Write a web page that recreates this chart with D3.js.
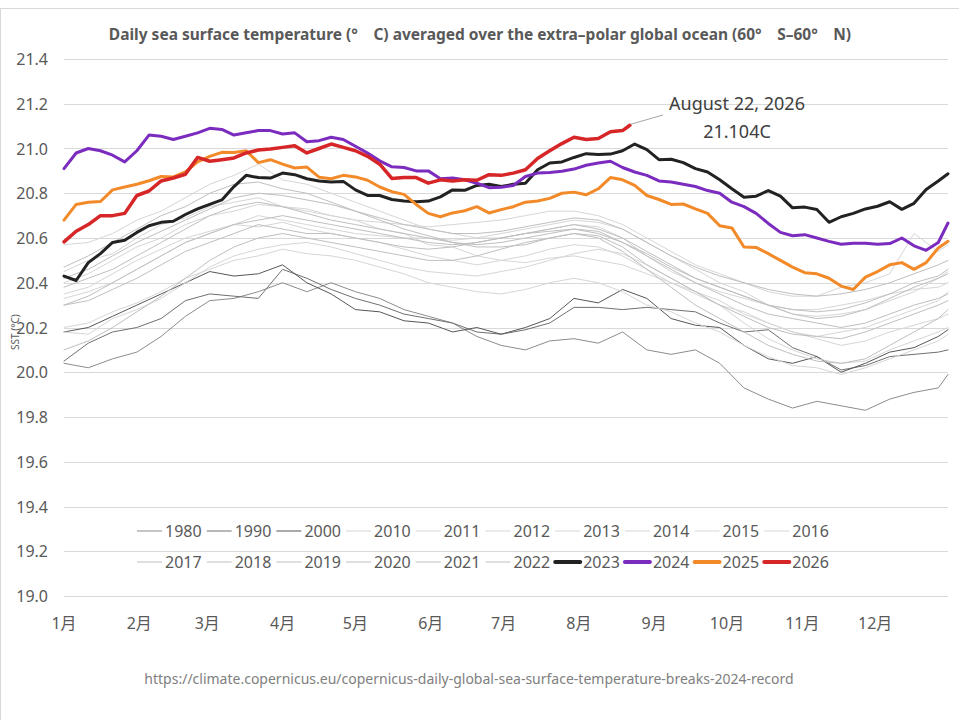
<!DOCTYPE html>
<html>
<head>
<meta charset="utf-8">
<script src="https://cdn.jsdelivr.net/npm/d3@7"></script>
<style>
  body { margin: 0; background: #fff; }
  svg text { font-family: "Noto Sans", "Noto Sans CJK SC", sans-serif; }
</style>
</head>
<body>
<svg id="chart" width="959" height="720"></svg>
<script>
// month ticks (day of year) and labels
var monthDays = [0, 31, 59, 90, 120, 151, 181, 212, 243, 273, 304, 334];
var monthLabels = ["1月", "2月", "3月", "4月", "5月", "6月", "7月", "8月", "9月", "10月", "11月", "12月"];
var yTicks = [19.0, 19.2, 19.4, 19.6, 19.8, 20.0, 20.2, 20.4, 20.6, 20.8, 21.0, 21.2, 21.4];

// background years, sampled every 10 days
var grayDays = [0, 10, 20, 30, 40, 50, 60, 70, 80, 90, 100, 110, 120, 130, 140, 150, 160, 170, 180,
    190, 200, 210, 220, 230, 240, 250, 260, 270, 280, 290, 300, 310, 320, 330, 340, 350, 360, 364];

var sst1980 = [20.04, 20.02, 20.06, 20.09, 20.16, 20.25, 20.32, 20.33, 20.36, 20.40, 20.36, 20.40, 20.36, 20.33, 20.28, 20.25, 20.22, 20.16, 20.12,
    20.10, 20.14, 20.15, 20.13, 20.18, 20.10, 20.08, 20.10, 20.04, 19.93, 19.88, 19.84, 19.87, 19.85, 19.83, 19.88, 19.91, 19.93, 19.99];
var sst1990 = [20.05, 20.13, 20.18, 20.20, 20.24, 20.32, 20.35, 20.34, 20.33, 20.46, 20.42, 20.37, 20.33, 20.30, 20.26, 20.24, 20.22, 20.18, 20.17,
    20.19, 20.22, 20.29, 20.29, 20.28, 20.29, 20.28, 20.27, 20.22, 20.18, 20.19, 20.11, 20.07, 20.01, 20.03, 20.07, 20.08, 20.09, 20.10];
var sst2000 = [20.18, 20.20, 20.25, 20.30, 20.35, 20.40, 20.45, 20.43, 20.44, 20.48, 20.40, 20.35, 20.28, 20.27, 20.23, 20.22, 20.18, 20.20, 20.17,
    20.20, 20.24, 20.33, 20.31, 20.37, 20.33, 20.24, 20.21, 20.20, 20.12, 20.06, 20.04, 20.07, 20.00, 20.04, 20.09, 20.11, 20.16, 20.19];
var sst2010 = [20.45, 20.50, 20.53, 20.60, 20.66, 20.69, 20.74, 20.76, 20.78, 20.74, 20.73, 20.70, 20.68, 20.64, 20.62, 20.57, 20.56, 20.52, 20.50,
    20.49, 20.51, 20.52, 20.50, 20.48, 20.44, 20.40, 20.35, 20.30, 20.27, 20.22, 20.18, 20.15, 20.12, 20.14, 20.18, 20.21, 20.24, 20.26];
var sst2011 = [20.20, 20.22, 20.27, 20.31, 20.36, 20.42, 20.46, 20.50, 20.52, 20.55, 20.53, 20.52, 20.50, 20.47, 20.44, 20.40, 20.38, 20.36, 20.35,
    20.37, 20.40, 20.42, 20.40, 20.36, 20.30, 20.27, 20.22, 20.18, 20.12, 20.07, 20.03, 20.02, 19.99, 20.02, 20.06, 20.10, 20.14, 20.17];
var sst2012 = [20.18, 20.17, 20.24, 20.28, 20.33, 20.40, 20.47, 20.52, 20.55, 20.57, 20.58, 20.56, 20.53, 20.50, 20.47, 20.45, 20.44, 20.43, 20.45,
    20.47, 20.50, 20.53, 20.55, 20.53, 20.48, 20.42, 20.36, 20.30, 20.22, 20.15, 20.10, 20.06, 20.04, 20.05, 20.10, 20.14, 20.18, 20.20];
var sst2013 = [20.33, 20.36, 20.40, 20.46, 20.52, 20.58, 20.62, 20.66, 20.65, 20.67, 20.64, 20.62, 20.60, 20.58, 20.55, 20.52, 20.50, 20.48, 20.50,
    20.52, 20.55, 20.57, 20.56, 20.52, 20.46, 20.40, 20.36, 20.32, 20.26, 20.22, 20.18, 20.16, 20.18, 20.20, 20.24, 20.28, 20.32, 20.36];
var sst2014 = [20.35, 20.38, 20.44, 20.50, 20.55, 20.60, 20.63, 20.66, 20.70, 20.68, 20.66, 20.64, 20.62, 20.61, 20.60, 20.60, 20.59, 20.60, 20.62,
    20.64, 20.66, 20.68, 20.67, 20.64, 20.58, 20.52, 20.46, 20.40, 20.36, 20.30, 20.26, 20.25, 20.26, 20.28, 20.32, 20.36, 20.42, 20.45];
var sst2015 = [20.40, 20.44, 20.50, 20.56, 20.60, 20.66, 20.70, 20.72, 20.75, 20.74, 20.72, 20.70, 20.68, 20.67, 20.66, 20.65, 20.66, 20.67, 20.68,
    20.70, 20.72, 20.72, 20.70, 20.66, 20.60, 20.54, 20.48, 20.44, 20.40, 20.36, 20.34, 20.34, 20.38, 20.40, 20.44, 20.62, 20.54, 20.57];
var sst2016 = [20.57, 20.58, 20.62, 20.68, 20.72, 20.78, 20.84, 20.88, 20.93, 20.86, 20.84, 20.80, 20.76, 20.72, 20.68, 20.64, 20.62, 20.60, 20.60,
    20.62, 20.64, 20.66, 20.65, 20.60, 20.52, 20.45, 20.40, 20.36, 20.33, 20.30, 20.28, 20.28, 20.30, 20.32, 20.35, 20.37, 20.38, 20.40];
var sst2017 = [20.38, 20.42, 20.46, 20.52, 20.58, 20.64, 20.70, 20.74, 20.76, 20.74, 20.71, 20.68, 20.66, 20.64, 20.62, 20.60, 20.58, 20.57, 20.58,
    20.60, 20.62, 20.64, 20.63, 20.58, 20.52, 20.46, 20.40, 20.35, 20.30, 20.26, 20.24, 20.22, 20.20, 20.22, 20.26, 20.30, 20.33, 20.35];
var sst2018 = [20.30, 20.32, 20.37, 20.42, 20.48, 20.54, 20.58, 20.62, 20.66, 20.64, 20.62, 20.62, 20.60, 20.58, 20.56, 20.55, 20.56, 20.58, 20.60,
    20.62, 20.63, 20.64, 20.62, 20.58, 20.53, 20.47, 20.42, 20.38, 20.34, 20.30, 20.28, 20.27, 20.28, 20.31, 20.35, 20.40, 20.43, 20.46];
var sst2019 = [20.42, 20.46, 20.52, 20.58, 20.63, 20.68, 20.73, 20.78, 20.80, 20.79, 20.77, 20.75, 20.72, 20.69, 20.66, 20.64, 20.62, 20.62, 20.63,
    20.65, 20.67, 20.69, 20.68, 20.64, 20.58, 20.52, 20.47, 20.43, 20.40, 20.37, 20.35, 20.34, 20.35, 20.37, 20.40, 20.44, 20.48, 20.50];
var sst2020 = [20.47, 20.52, 20.58, 20.64, 20.70, 20.74, 20.80, 20.84, 20.85, 20.82, 20.80, 20.76, 20.72, 20.68, 20.64, 20.61, 20.58, 20.56, 20.56,
    20.57, 20.60, 20.62, 20.61, 20.56, 20.48, 20.42, 20.36, 20.30, 20.25, 20.20, 20.17, 20.16, 20.15, 20.18, 20.22, 20.26, 20.30, 20.32];
var sst2021 = [20.10, 20.14, 20.20, 20.27, 20.34, 20.42, 20.50, 20.56, 20.60, 20.62, 20.60, 20.58, 20.56, 20.54, 20.52, 20.50, 20.50, 20.52, 20.55,
    20.58, 20.60, 20.62, 20.60, 20.54, 20.46, 20.38, 20.30, 20.24, 20.18, 20.12, 20.08, 20.05, 20.04, 20.06, 20.12, 20.18, 20.24, 20.28];
var sst2022 = [20.30, 20.34, 20.40, 20.46, 20.52, 20.58, 20.62, 20.66, 20.68, 20.70, 20.68, 20.66, 20.64, 20.62, 20.60, 20.58, 20.57, 20.58, 20.60,
    20.62, 20.64, 20.66, 20.64, 20.60, 20.54, 20.48, 20.42, 20.38, 20.34, 20.30, 20.26, 20.24, 20.25, 20.28, 20.33, 20.38, 20.42, 20.44];

// recent years, sampled every 5 days
var recentDays = [0, 5, 10, 15, 20, 25, 30, 35, 40, 45, 50, 55, 60, 65, 70, 75, 80, 85, 90, 95, 100, 105, 110, 115, 120,
    125, 130, 135, 140, 145, 150, 155, 160, 165, 170, 175, 180, 185, 190, 195, 200, 205, 210, 215, 220, 225, 230, 235,
    240, 245, 250, 255, 260, 265, 270, 275, 280, 285, 290, 295, 300, 305, 310, 315, 320, 325, 330, 335, 340, 345, 350, 355, 360, 364];

var sst2023 = [20.43, 20.41, 20.49, 20.53, 20.58, 20.59, 20.625, 20.655, 20.67, 20.675, 20.705, 20.73, 20.75, 20.77, 20.83, 20.88, 20.87, 20.868, 20.89,
    20.883, 20.865, 20.855, 20.85, 20.853, 20.815, 20.79, 20.79, 20.772, 20.765, 20.762, 20.765, 20.784, 20.815, 20.813, 20.835, 20.84, 20.83, 20.84,
    20.845, 20.905, 20.935, 20.94, 20.96, 20.977, 20.973, 20.975, 20.99, 21.02, 20.995, 20.95, 20.952, 20.937, 20.91, 20.895, 20.86, 20.82, 20.782,
    20.787, 20.812, 20.787, 20.735, 20.738, 20.727, 20.67, 20.695, 20.71, 20.73, 20.742, 20.762, 20.728, 20.755, 20.817, 20.855, 20.887];
var sst2024 = [20.91, 20.98, 21.00, 20.99, 20.97, 20.94, 20.99, 21.06, 21.055, 21.04, 21.055, 21.07, 21.09, 21.085, 21.06, 21.07, 21.08, 21.08, 21.065,
    21.07, 21.03, 21.035, 21.05, 21.04, 21.01, 20.98, 20.945, 20.918, 20.915, 20.90, 20.90, 20.865, 20.868, 20.86, 20.845, 20.825, 20.827, 20.835,
    20.875, 20.89, 20.893, 20.898, 20.908, 20.925, 20.935, 20.943, 20.915, 20.895, 20.88, 20.855, 20.85, 20.84, 20.83, 20.812, 20.80, 20.76, 20.74,
    20.71, 20.665, 20.625, 20.61, 20.615, 20.60, 20.585, 20.572, 20.577, 20.577, 20.572, 20.575, 20.60, 20.565, 20.545, 20.58, 20.667];
var sst2025 = [20.68, 20.75, 20.76, 20.763, 20.815, 20.828, 20.84, 20.856, 20.875, 20.873, 20.895, 20.94, 20.965, 20.983, 20.982, 20.99, 20.937, 20.95,
    20.93, 20.913, 20.917, 20.872, 20.865, 20.88, 20.873, 20.858, 20.828, 20.807, 20.795, 20.75, 20.71, 20.695, 20.712, 20.722, 20.74, 20.712, 20.727,
    20.74, 20.76, 20.765, 20.777, 20.80, 20.805, 20.793, 20.82, 20.87, 20.86, 20.835, 20.79, 20.772, 20.75, 20.752, 20.73, 20.71, 20.655, 20.645,
    20.56, 20.558, 20.53, 20.50, 20.47, 20.445, 20.44, 20.42, 20.385, 20.37, 20.425, 20.45, 20.48, 20.49, 20.46, 20.49, 20.555, 20.585];
var sst2026Days = [0, 5, 10, 15, 20, 25, 30, 35, 40, 45, 50, 55, 60, 65, 70, 75, 80, 85, 90, 95, 100, 105, 110, 115, 120,
    125, 130, 135, 140, 145, 150, 155, 160, 165, 170, 175, 180, 185, 190, 195, 200, 205, 210, 215, 220, 225, 230, 233];
var sst2026 = [20.583, 20.63, 20.66, 20.70, 20.70, 20.71, 20.79, 20.81, 20.855, 20.868, 20.885, 20.96, 20.943, 20.95, 20.958, 20.98, 20.993, 20.998,
    21.005, 21.012, 20.98, 21.00, 21.02, 21.005, 20.99, 20.965, 20.93, 20.866, 20.87, 20.87, 20.845, 20.86, 20.855, 20.86, 20.858, 20.883, 20.88,
    20.89, 20.905, 20.955, 20.99, 21.022, 21.05, 21.04, 21.045, 21.075, 21.08, 21.104];

var legendRow1 = ["1980", "1990", "2000", "2010", "2011", "2012", "2013", "2014", "2015", "2016"];
var legendRow2 = ["2017", "2018", "2019", "2020", "2021", "2022", "2023", "2024", "2025", "2026"];

var series = [
    { year: "1980", days: grayDays, vals: sst1980 },
    { year: "1990", days: grayDays, vals: sst1990 },
    { year: "2000", days: grayDays, vals: sst2000 },
    { year: "2010", days: grayDays, vals: sst2010 },
    { year: "2011", days: grayDays, vals: sst2011 },
    { year: "2012", days: grayDays, vals: sst2012 },
    { year: "2013", days: grayDays, vals: sst2013 },
    { year: "2014", days: grayDays, vals: sst2014 },
    { year: "2015", days: grayDays, vals: sst2015 },
    { year: "2016", days: grayDays, vals: sst2016 },
    { year: "2017", days: grayDays, vals: sst2017 },
    { year: "2018", days: grayDays, vals: sst2018 },
    { year: "2019", days: grayDays, vals: sst2019 },
    { year: "2020", days: grayDays, vals: sst2020 },
    { year: "2021", days: grayDays, vals: sst2021 },
    { year: "2022", days: grayDays, vals: sst2022 },
    { year: "2023", days: recentDays, vals: sst2023 },
    { year: "2024", days: recentDays, vals: sst2024 },
    { year: "2025", days: recentDays, vals: sst2025 },
    { year: "2026", days: sst2026Days, vals: sst2026 }
];

// styles per year
function styleOf(year) {
    var y = +year;
    if (y == 1980) return { c: "#8c8c8c", w: 1 };
    if (y == 1990) return { c: "#707070", w: 1 };
    if (y == 2000) return { c: "#575757", w: 1 };
    if (y <= 2016) return { c: "#d6d6d6", w: 1 };
    if (y <= 2022) return { c: "#bfbfbf", w: 1 };
    if (y == 2023) return { c: "#222222", w: 3 };
    if (y == 2024) return { c: "#7b2cbf", w: 3 };
    if (y == 2025) return { c: "#f28a2a", w: 3 };
    return { c: "#d62627", w: 3.5 };
}

var svg = d3.select("#chart");
var textCol = "#595959";

// outer border
svg.append("rect").attr("x", 0.5).attr("y", 8.5).attr("width", 970).attr("height", 730)
    .attr("fill", "#fff").attr("stroke", "#d9d9d9");

var x = d3.scaleLinear().domain([0, 364]).range([64, 948]);
var y = d3.scaleLinear().domain([19.0, 21.4]).range([596, 59]);

// gridlines
svg.append("g").selectAll("line").data(yTicks).enter().append("line")
    .attr("x1", 64).attr("x2", 948)
    .attr("y1", d => Math.round(y(d)) + 0.5).attr("y2", d => Math.round(y(d)) + 0.5)
    .attr("stroke", "#d9d9d9").attr("stroke-width", 1);

// y axis labels
svg.append("g").selectAll("text").data(yTicks).enter().append("text")
    .attr("x", 48).attr("y", d => y(d) + 6)
    .attr("text-anchor", "end").attr("font-size", 16).attr("fill", textCol)
    .text(d => d3.format(".1f")(d));

// month labels
svg.append("g").selectAll("text").data(monthDays).enter().append("text")
    .attr("x", d => x(d)).attr("y", 629)
    .attr("text-anchor", "middle").attr("font-size", 16).attr("fill", textCol)
    .text((d, i) => monthLabels[i]);

// lines
var line = d3.line().x(d => x(d[0])).y(d => y(d[1]));
svg.append("g").selectAll("path").data(series).enter().append("path")
    .attr("d", s => line(s.days.map((d, i) => [d, s.vals[i]])))
    .attr("fill", "none")
    .attr("stroke", s => styleOf(s.year).c)
    .attr("stroke-width", s => styleOf(s.year).w)
    .attr("stroke-linejoin", "round").attr("stroke-linecap", "round");

// title
svg.append("text").attr("x", 480).attr("y", 40).attr("text-anchor", "middle")
    .attr("font-size", 15.5).attr("font-weight", "bold").attr("fill", textCol)
    .text("Daily sea surface temperature (°\u3000C) averaged over the extra\u2013polar global ocean (60°\u3000S\u201360°\u3000N)");

// y axis title
svg.append("text").attr("transform", "translate(19,332) rotate(-90)")
    .attr("text-anchor", "middle").attr("font-size", 10).attr("fill", textCol)
    .text("SST (°C)");

// legend
var legend = svg.append("g");
[legendRow1, legendRow2].forEach((row, r) => {
    var ly = 531 + r * 31;
    var g = legend.selectAll(".row" + r).data(row).enter().append("g")
        .attr("transform", (d, i) => "translate(" + (137 + i * 69.7) + "," + ly + ")");
    g.append("line").attr("x1", 0).attr("x2", 25).attr("y1", 0).attr("y2", 0)
        .attr("stroke", d => styleOf(d).c)
        .attr("stroke-width", d => styleOf(d).w > 1 ? 4 : 1)
        .attr("stroke-linecap", d => styleOf(d).w > 1 ? "round" : "butt");
    g.append("text").attr("x", 28).attr("y", 6).attr("font-size", 16).attr("fill", textCol).text(d => d);
});

// annotation for last point of 2026
var lastDay = sst2026Days[sst2026Days.length - 1], lastVal = sst2026[sst2026.length - 1];
svg.append("line").attr("x1", x(lastDay) + 1).attr("y1", y(lastVal) - 1)
    .attr("x2", 663).attr("y2", 115).attr("stroke", "#a6a6a6").attr("stroke-width", 1);
svg.append("text").attr("x", 737).attr("y", 110).attr("text-anchor", "middle")
    .attr("font-size", 18).attr("fill", "#404040").text("August 22, 2026");
svg.append("text").attr("x", 737).attr("y", 138).attr("text-anchor", "middle")
    .attr("font-size", 18).attr("fill", "#404040").text(lastVal.toFixed(3) + "C");

// source
svg.append("text").attr("x", 469).attr("y", 684).attr("text-anchor", "middle")
    .attr("font-size", 14).attr("fill", "#808080")
    .text("https://climate.copernicus.eu/copernicus-daily-global-sea-surface-temperature-breaks-2024-record");
</script>
</body>
</html>
